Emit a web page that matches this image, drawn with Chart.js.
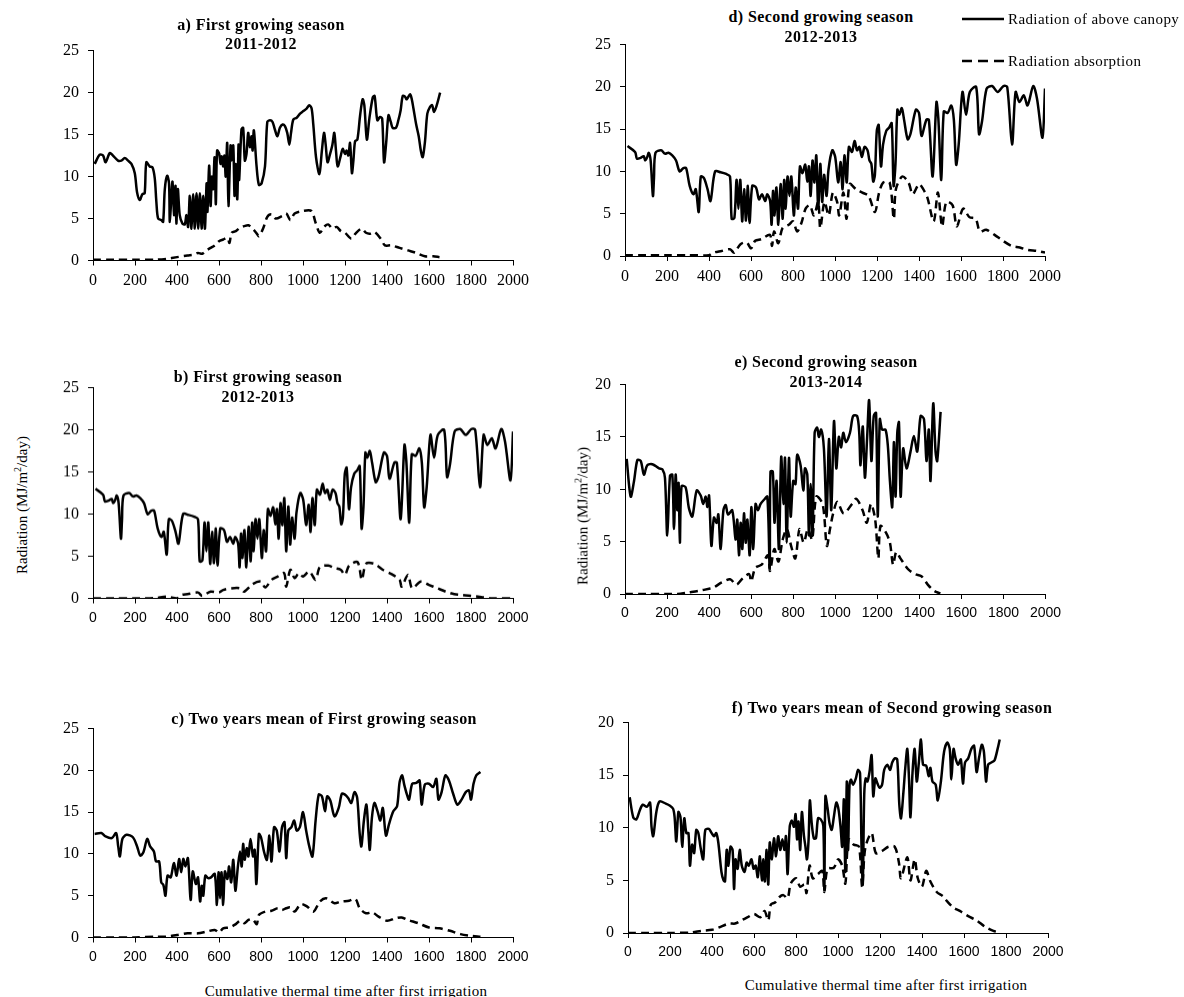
<!DOCTYPE html>
<html lang="en">
<head>
<meta charset="UTF-8">
<title>Radiation above canopy and absorbed</title>
<script src="https://cdn.jsdelivr.net/npm/chart.js"></script>
<style>
    body { margin: 0; background: #fff; width: 1184px; height: 997px; position: relative; overflow: hidden;
           font-family: "Liberation Serif", "DejaVu Serif", serif; color: #000; }
    .panel { position: absolute; }
    .ttl { position: absolute; font-weight: bold; font-size: 16px; letter-spacing: 0.4px; white-space: nowrap; transform: translate(-50%, -50%); }
    .axt { position: absolute; font-size: 15px; white-space: nowrap; transform: translate(-50%, -50%); letter-spacing: 0.3px; }
    .ylab { position: absolute; font-size: 15px; white-space: nowrap; transform: translate(-50%, -50%) rotate(-90deg); }
    .leg { position: absolute; font-size: 15px; white-space: nowrap; letter-spacing: 0.4px; transform: translateY(-50%); }
</style>
</head>
<body>

<!-- panels -->
<div class="panel" id="pa"><canvas id="ca"></canvas></div>
<div class="panel" id="pb"><canvas id="cb"></canvas></div>
<div class="panel" id="pc"><canvas id="cc"></canvas></div>
<div class="panel" id="pd"><canvas id="cd"></canvas></div>
<div class="panel" id="pe"><canvas id="ce"></canvas></div>
<div class="panel" id="pf"><canvas id="cf"></canvas></div>

<!-- titles -->
<div class="ttl" style="left:261px;top:25px">a) First growing season</div>
<div class="ttl" style="left:261px;top:44px">2011-2012</div>
<div class="ttl" style="left:258px;top:377px">b) First growing season</div>
<div class="ttl" style="left:258px;top:397px">2012-2013</div>
<div class="ttl" style="left:324px;top:719px">c) Two years mean of First growing season</div>
<div class="ttl" style="left:821px;top:17px">d) Second growing season</div>
<div class="ttl" style="left:821px;top:37px">2012-2013</div>
<div class="ttl" style="left:826px;top:362px">e) Second growing season</div>
<div class="ttl" style="left:826px;top:382px">2013-2014</div>
<div class="ttl" style="left:892px;top:708px">f) Two years mean of Second growing season</div>

<div class="ylab" style="left:21px;top:505px">Radiation (MJ/m<sup style="font-size:10px">2</sup>/day)</div>
<div class="ylab" style="left:582px;top:516px">Radiation (MJ/m<sup style="font-size:10px">2</sup>/day)</div>
<div class="axt" style="left:346px;top:991px">Cumulative thermal time after first irrigation</div>
<div class="axt" style="left:886px;top:985px">Cumulative thermal time after first irrigation</div>

<!-- legend -->
<svg style="position:absolute;left:960px;top:10px" width="48" height="60">
    <line x1="2" y1="9" x2="44" y2="9" stroke="#000" stroke-width="2.5"/>
    <line x1="2" y1="51" x2="44" y2="51" stroke="#000" stroke-width="2.5" stroke-dasharray="10,6"/>
</svg>
<div class="leg" style="left:1008px;top:19px">Radiation of above canopy</div>
<div class="leg" style="left:1008px;top:61px">Radiation absorption</div>

<script>
    // a) first season 2011-2012
    const tt1112 = [8,32,48,60,80,95,119,135,151,167,183,199,210,223,235,246,254,270,283,294,302,310,326,334,342,353,362,366,378,386,393,397,404,413,426,437,445,453,461,469,477,485,493,501,509,517,525,533,541,545,553,560,566,572,579,585,591,601,607,613,620,626,632,639,645,655,661,668,674,680,687,693,696,707,715,723,731,739,747,755,760,766,779,790,803,819,830,843,855,866,878,890,903,914,925,935,943,954,970,986,1002,1017,1030,1041,1049,1062,1078,1090,1100,1108,1117,1129,1140,1149,1157,1165,1180,1189,1200,1208,1216,1224,1233,1240,1248,1259,1272,1284,1292,1304,1316,1332,1341,1354,1367,1377,1386,1396,1407,1418,1427,1443,1454,1465,1475,1486,1494,1510,1518,1526,1539,1551,1561,1570,1581,1592,1605,1615,1624,1637,1653];
    const rad1112 = [11.5,12.6,12.5,11.7,12.8,12.5,11.9,11.9,12.2,11.9,11.5,10.4,8.1,7.2,7.9,8.0,11.7,11.2,11.1,9.8,6.9,5.0,4.8,4.6,8.5,10.1,9.2,4.6,9.4,5.4,8.9,4.4,8.5,5.4,4.4,4.3,5.4,4.0,7.7,3.8,7.9,3.8,8.0,3.8,8.0,3.8,7.7,3.8,9.2,5.8,11.3,6.5,10.0,8.5,12.3,6.7,13.1,12.7,11.5,12.4,11.2,12.5,10.0,14.0,6.5,13.7,11.9,13.7,7.7,11.5,7.3,13.8,9.6,15.6,15.8,11.9,12.7,15.2,13.5,14.8,13.1,15.5,11.2,9.0,9.2,11.2,16.5,16.7,16.5,15.6,14.8,15.8,16.2,16.0,15.2,13.8,15.2,16.8,17.0,17.5,17.8,18.1,18.5,18.1,16.2,12.3,10.3,13.1,15.2,13.8,11.7,12.7,13.8,15.2,13.1,11.2,12.5,13.3,12.7,13.1,12.5,14.0,10.4,11.9,14.2,14.4,17.3,19.2,18.5,14.4,16.9,19.4,19.6,16.7,17.1,16.9,11.7,14.0,17.3,16.5,15.8,15.8,16.7,17.9,19.6,19.5,19.2,19.8,19.2,18.1,16.2,14.8,13.1,12.3,14.2,17.5,18.3,18.5,17.7,18.5,20.0];
    const absX_a = [0,100,200,300,350,400,450,480,500,520,540,560,580,600,620,640,650,660,680,700,720,740,760,780,790,810,830,850,870,900,920,940,960,1000,1040,1060,1080,1100,1120,1140,1160,1180,1200,1230,1250,1280,1300,1320,1340,1370,1390,1420,1460,1500,1540,1580,1620,1650];
    const abs_a = [0.1,0.1,0.1,0.1,0.2,0.4,0.6,0.7,0.9,0.8,1.2,1.5,1.8,2.3,2.5,2.7,2.1,3.3,3.5,3.9,4.1,4.2,3.8,3.2,2.9,3.8,5.2,5.5,5.0,5.3,5.6,4.8,5.6,5.9,5.9,4.5,3.3,4.0,4.3,3.8,4.0,3.5,3.3,2.6,3.2,3.8,3.3,3.2,3.4,2.6,1.8,1.8,1.5,1.2,0.9,0.5,0.5,0.4];

    // b) and d) share the 2012-2013 weather
    const tt1213 = [12,48,57,74,89,96,106,113,122,133,138,145,172,190,207,225,243,260,278,291,308,326,337,351,361,376,393,407,429,455,482,500,508,521,531,540,549,558,567,576,585,593,606,624,638,652,668,677,691,698,705,712,721,730,741,751,758,765,774,783,792,804,813,824,833,845,858,868,876,884,893,902,911,920,930,939,948,960,969,987,1001,1015,1027,1036,1045,1056,1066,1081,1093,1105,1116,1128,1141,1155,1164,1173,1182,1190,1199,1208,1219,1229,1244,1258,1270,1279,1288,1297,1306,1318,1329,1346,1359,1385,1400,1412,1435,1447,1465,1483,1492,1506,1518,1536,1554,1566,1577,1589,1607,1624,1642,1672,1686,1700,1722,1748,1775,1802,1820,1843,1860,1878,1899,1917,1944,1962,1988,2000];
    const rad1213 = [13.0,12.3,11.5,11.6,11.8,11.3,11.7,12.2,11.3,7.1,9.2,12.2,12.5,12.1,12.2,11.9,11.3,10.0,10.4,10.4,8.3,7.3,7.9,5.2,9.4,9.2,7.9,6.5,10.0,9.9,9.7,9.4,4.4,4.5,9.0,5.6,9.0,4.1,7.9,4.2,8.3,3.9,8.3,8.1,6.7,7.3,6.5,7.3,6.5,3.7,7.7,4.8,8.1,3.7,8.5,4.4,9.0,5.6,9.4,7.1,9.4,4.8,8.1,5.6,10.6,9.8,10.8,8.8,10.6,7.1,11.3,8.7,11.9,5.6,10.9,6.4,9.6,7.1,10.2,12.5,11.7,8.7,11.1,7.9,11.9,8.7,12.9,12.3,13.6,12.5,12.9,11.7,12.9,12.5,11.3,10.9,8.8,9.6,14.8,15.5,10.6,13.2,14.8,15.2,15.7,8.3,10.9,17.3,16.7,17.5,16.1,13.8,14.4,17.3,16.9,14.2,16.1,16.1,9.4,18.2,16.3,9.0,17.1,16.9,17.8,16.1,10.8,13.2,19.4,16.7,19.4,20.0,14.4,15.9,19.8,20.1,19.4,20.1,20.0,13.2,19.4,18.2,19.0,17.8,20.1,18.6,14.0,19.8];
    const absX_b = [0,100,200,250,300,350,400,420,450,500,520,560,600,620,660,700,720,760,800,820,850,880,910,920,940,960,980,1000,1030,1060,1080,1120,1150,1180,1200,1220,1260,1280,1300,1340,1380,1420,1460,1470,1500,1520,1560,1600,1640,1680,1720,1760,1800,1850,1900,2000];
    const abs_b = [0,0,0,0,0.05,0.2,0,0.4,0.5,0.7,0.3,0.8,0.7,1.0,1.2,1.2,0.8,1.7,2.0,1.3,2.2,2.6,3.0,1.4,3.4,2.4,3.0,2.6,3.2,2.2,3.7,3.9,3.6,3.4,2.8,3.9,4.3,2.2,4.1,4.1,3.4,2.9,2.2,1.4,2.8,1.2,2.0,1.6,1.2,0.8,0.5,0.4,0.3,0.15,0,0];
    const absX_d = [0,100,200,300,400,420,460,500,520,550,580,600,620,650,690,700,710,730,750,780,800,820,840,860,880,900,920,930,950,970,990,1010,1020,1040,1055,1070,1100,1130,1160,1190,1210,1230,1260,1280,1290,1320,1350,1370,1400,1420,1440,1470,1490,1510,1530,1560,1580,1610,1640,1670,1690,1720,1760,1800,1840,1880,1920,1960,2000];
    const abs_d = [0.1,0.1,0.1,0.1,0.1,0.4,0.6,0.8,0.4,1.4,1.6,0.9,1.8,2.0,2.5,1.2,2.9,1.5,3.3,3.7,4.1,2.9,3.9,5.6,6.0,4.8,6.4,3.3,6.4,4.8,7.5,6.4,4.8,7.5,4.4,8.5,7.9,7.5,7.1,5.2,7.5,8.7,8.7,4.4,7.9,9.4,8.7,7.3,8.5,7.9,6.9,4.1,7.5,3.5,6.4,6.0,3.5,5.6,4.6,4.4,2.9,3.1,2.5,1.8,1.2,1.0,0.7,0.6,0.4];

    // c) two years mean, first season
    const ttMean1 = [8,40,60,90,110,120,128,140,160,190,210,225,240,258,272,290,300,315,325,335,345,355,370,385,398,410,420,430,440,452,465,475,490,500,510,518,525,535,548,562,580,590,598,605,612,620,628,640,648,658,668,678,690,700,708,715,722,732,740,750,762,770,778,790,800,815,828,840,850,862,875,888,900,912,920,930,945,958,970,985,1000,1015,1030,1045,1060,1075,1090,1105,1115,1130,1150,1170,1185,1200,1215,1230,1245,1258,1270,1278,1290,1302,1312,1318,1328,1340,1355,1368,1380,1395,1410,1430,1448,1460,1472,1482,1495,1505,1520,1540,1555,1565,1580,1600,1620,1635,1645,1660,1678,1695,1715,1735,1755,1775,1790,1800,1812,1825,1845];
    const radMean1 = [12.4,12.5,12.1,11.9,12.5,10.9,9.7,11.8,12.3,12.0,10.9,9.8,10.2,11.8,10.9,10.3,9.1,9.1,6.6,6.3,5.0,7.4,7.2,8.9,7.4,9.4,7.8,9.4,8.5,9.5,4.5,7.9,6.4,7.2,4.3,6.2,5.0,7.4,7.1,7.2,7.6,3.9,7.8,4.7,7.8,3.9,7.9,7.0,8.5,6.6,9.3,5.6,8.5,10.3,8.5,11.2,9.3,10.7,9.7,11.8,9.7,10.5,6.4,12.4,12.0,10.2,9.3,12.2,9.1,13.2,12.8,10.3,13.2,13.8,9.5,12.8,13.2,14.0,12.8,13.2,15.0,12.8,10.9,9.7,14.0,17.1,16.9,15.1,16.9,16.4,14.5,15.5,17.2,17.1,16.7,16.1,17.4,16.7,12.4,10.9,14.0,15.9,12.4,10.5,14.3,16.1,15.1,14.0,15.5,12.2,13.6,15.1,15.7,18.6,19.4,18.3,17.1,16.5,18.4,18.5,18.8,15.9,18.3,18.4,18.0,19.0,16.5,17.4,19.4,18.8,17.2,15.9,16.5,17.4,17.6,16.5,18.4,19.4,19.8];
    const absX_c = [0,100,200,300,350,400,450,500,540,580,600,620,650,680,700,720,740,760,780,790,820,850,880,900,920,940,960,990,1020,1050,1080,1110,1150,1180,1220,1250,1270,1300,1330,1360,1400,1440,1470,1500,1550,1600,1650,1700,1750,1800,1845];
    const abs_c = [0,0,0,0.1,0.1,0.3,0.5,0.5,0.7,0.9,0.6,1.1,1.2,1.6,2.0,1.7,2.1,2.2,1.6,2.7,3.1,3.2,3.5,3.3,3.5,3.6,3.1,4.0,3.7,3.1,4.3,4.7,4.1,4.3,4.4,4.6,3.5,2.9,3.0,2.5,2.0,2.3,2.4,2.1,1.7,1.2,1.1,0.8,0.4,0.2,0.1];

    // e) second season 2013-2014
    const tt1314 = [8,27,43,59,75,90,106,130,162,178,190,201,214,225,233,241,249,255,261,269,288,304,320,341,360,372,384,392,400,411,423,436,444,455,468,479,490,510,526,534,542,550,558,566,574,582,593,601,610,621,632,645,661,677,688,692,703,711,721,732,743,753,761,769,780,788,800,811,819,835,848,856,867,875,883,892,902,914,922,933,946,959,970,981,994,1005,1017,1028,1038,1051,1070,1085,1104,1114,1120,1131,1141,1152,1161,1172,1183,1194,1202,1212,1223,1239,1250,1260,1271,1279,1287,1295,1303,1311,1323,1339,1358,1374,1390,1406,1422,1434,1445,1453,1466,1477,1485,1501];
    const rad1314 = [12.9,9.3,10.8,12.8,12.7,11.4,12.3,12.4,12.0,11.9,11.1,5.6,11.3,11.4,6.2,11.4,8.0,10.6,4.9,10.3,10.2,8.2,7.4,9.9,9.4,8.6,9.3,8.3,9.4,4.6,7.3,6.8,7.6,4.3,8.0,8.5,7.6,8.0,5.2,7.1,3.7,6.8,4.3,7.7,4.9,7.1,3.7,8.3,4.3,8.6,8.0,8.6,9.0,9.3,2.5,11.7,11.7,6.8,10.8,4.3,13.1,8.6,13.0,4.9,13.0,7.4,10.8,10.5,13.3,12.3,9.9,12.0,11.4,5.6,10.5,5.6,15.4,15.9,15.0,15.7,13.9,7.4,14.8,8.0,16.5,12.0,15.0,14.0,15.4,14.5,15.4,17.0,17.0,15.4,12.3,16.0,11.1,15.1,18.5,12.7,17.0,17.3,7.4,16.7,15.7,15.7,14.2,10.8,8.3,14.5,9.3,15.4,16.4,9.3,13.9,12.0,13.6,15.1,13.6,17.0,16.7,12.7,15.7,10.8,18.2,13.6,12.7,17.4];
    const absX_e = [0,100,200,250,300,350,400,420,460,500,530,560,590,600,620,650,680,690,710,730,750,770,790,810,830,850,870,890,910,940,960,975,990,1010,1040,1080,1100,1130,1150,1170,1190,1205,1215,1240,1260,1275,1290,1310,1330,1350,1380,1410,1440,1470,1500];
    const abs_e = [0,0,0,0,0.15,0.3,0.5,0.6,1.1,1.4,0.9,1.5,1.9,1.2,2.5,2.8,3.7,2.2,4.3,3.1,5.2,6.2,4.6,3.4,6.2,4.9,6.2,5.2,9.3,8.6,4.6,6.2,7.7,8.8,7.7,8.6,9.1,8.0,6.8,8.6,7.1,3.4,6.5,5.9,4.9,2.8,4.0,3.4,2.8,2.3,1.9,1.7,0.9,0.3,0.05];

    // f) two years mean, second season
    const ttMean2 = [8,25,40,55,70,90,105,112,120,135,150,180,200,215,222,230,240,250,258,268,278,288,295,305,315,325,335,345,358,368,385,398,410,420,430,445,455,462,470,478,488,498,505,512,522,532,542,555,565,575,588,598,608,618,628,638,645,652,660,668,675,685,695,705,715,725,735,745,752,760,770,780,790,798,805,812,820,828,838,845,852,860,866,875,885,895,905,918,930,935,940,950,960,970,980,992,1002,1012,1020,1028,1035,1042,1048,1055,1062,1072,1085,1095,1105,1112,1118,1125,1132,1140,1150,1160,1168,1178,1188,1198,1210,1220,1235,1248,1258,1270,1282,1292,1300,1312,1320,1330,1338,1345,1355,1365,1375,1385,1395,1405,1420,1432,1440,1450,1465,1475,1490,1505,1520,1532,1540,1550,1560,1572,1585,1595,1605,1620,1635,1648,1660,1672,1685,1695,1705,1715,1730,1745,1760,1770];
    const radMean2 = [12.9,11.0,10.8,11.6,12.2,12.0,12.4,10.1,9.2,11.5,12.5,12.3,12.1,11.8,11.0,8.7,11.5,11.0,8.2,10.9,9.5,9.5,6.4,8.4,7.6,9.8,9.5,8.2,7.0,9.8,9.9,9.5,9.2,9.5,8.6,5.8,5.0,4.9,7.9,6.4,8.2,7.9,4.2,7.0,6.1,7.9,6.4,5.8,6.7,6.4,7.0,6.1,6.4,5.3,7.3,5.0,7.0,4.9,7.9,4.6,8.6,7.0,9.0,7.3,9.2,7.9,8.9,7.9,9.2,5.6,10.1,10.7,10.1,11.3,8.9,10.6,7.9,11.5,9.2,8.2,7.0,8.9,12.6,10.4,9.0,9.0,10.9,10.8,10.2,4.1,13.0,11.9,10.4,9.8,11.0,12.4,11.8,10.1,8.2,12.7,5.8,14.4,7.9,14.1,14.6,14.1,14.7,15.5,15.2,8.2,4.6,13.2,14.7,14.4,15.3,16.9,13.0,14.7,14.2,13.8,14.1,15.5,16.0,15.5,16.2,16.6,16.5,12.2,10.9,13.5,15.6,17.5,14.7,11.0,15.3,17.5,14.4,16.2,18.4,16.0,15.9,14.9,15.7,14.4,14.1,12.6,14.4,17.2,18.1,17.5,14.6,17.5,16.6,16.0,16.5,14.2,16.2,16.6,17.5,17.8,15.3,16.7,17.9,17.2,14.4,16.0,16.2,16.4,17.5,18.4];
    const absX_f = [0,100,200,300,350,400,430,480,510,540,570,600,630,650,668,680,700,720,740,760,775,800,820,840,850,865,880,905,925,935,950,980,1000,1020,1035,1050,1075,1100,1115,1130,1160,1180,1210,1240,1270,1290,1300,1330,1345,1365,1380,1400,1420,1440,1470,1500,1520,1550,1580,1620,1660,1700,1740,1770];
    const abs_f = [0,0,0,0.05,0.2,0.3,0.5,0.9,0.9,1.2,1.5,1.8,1.5,2.1,1.2,2.7,2.9,3.4,3.6,3.3,4.7,5.2,4.4,4.6,3.8,6.4,5.2,5.6,5.9,3.9,6.1,6.2,7.0,6.4,4.7,8.9,8.4,8.2,4.4,8.1,9.5,7.6,7.8,8.2,8.2,6.7,5.2,7.2,5.0,7.0,5.2,4.4,5.9,4.9,3.9,3.5,3.0,2.4,2.1,1.6,1.2,0.6,0.2,0.05];

    const xTicks = [0, 200, 400, 600, 800, 1000, 1200, 1400, 1600, 1800, 2000];

    const serif = '"Liberation Serif", "DejaVu Serif", serif';
    const sans = '"Liberation Sans", Arial, sans-serif';

    function pts(xs, ys) {
        return xs.map((x, i) => ({ x: x, y: ys[i] }));
    }

    // box = plot area in page pixels
    function drawPanel(id, box, tt, rad, absX, absY, yMax, xFont) {
        const padL = 50, padT = 12, padR = 25, padB = 32;
        const wrap = document.getElementById('p' + id);
        wrap.style.left = (box.L - padL) + 'px';
        wrap.style.top = (box.T - padT) + 'px';
        wrap.style.width = (box.R - box.L + padL + padR) + 'px';
        wrap.style.height = (box.B - box.T + padT + padB) + 'px';

        const axisCommon = {
            border: { display: true, color: '#000', width: 1 },
            grid: { display: true, drawOnChartArea: false, drawTicks: true, tickLength: 5, color: '#000' }
        };

        new Chart(document.getElementById('c' + id), {
            type: 'line',
            data: {
                datasets: [
                    { label: 'Radiation of above canopy', data: pts(tt, rad), borderColor: '#000', borderWidth: 2.5,
                      pointRadius: 0, tension: 0.3, fill: false },
                    { label: 'Radiation absorption', data: pts(absX, absY), borderColor: '#000', borderWidth: 2.5,
                      borderDash: [8, 5], pointRadius: 0, tension: 0.3, fill: false }
                ]
            },
            options: {
                responsive: true,
                maintainAspectRatio: false,
                animation: false,
                layout: { padding: { left: 0, top: padT, right: padR, bottom: 0 } },
                plugins: { legend: { display: false }, tooltip: { enabled: false } },
                scales: {
                    x: Object.assign({}, axisCommon, {
                        type: 'linear', min: 0, max: 2000,
                        afterBuildTicks: s => { s.ticks = xTicks.map(v => ({ value: v })); },
                        afterFit: s => { s.height = padB; },
                        ticks: { color: '#000', padding: 6, autoSkip: false, maxRotation: 0,
                                 callback: v => String(v),
                                 font: { family: xFont.family, size: xFont.size } }
                    }),
                    y: Object.assign({}, axisCommon, {
                        min: 0, max: yMax,
                        afterFit: s => { s.width = padL; },
                        ticks: { stepSize: 5, color: '#000', padding: 9, callback: v => String(v),
                                 font: { family: serif, size: 16 } }
                    })
                }
            }
        });
    }

    drawPanel('a', { L: 93, R: 513, T: 43.5, B: 260 }, tt1112, rad1112, absX_a, abs_a, 25, { family: serif, size: 16 });
    drawPanel('b', { L: 93, R: 513, T: 381, B: 597.5 }, tt1213, rad1213, absX_b, abs_b, 25, { family: sans, size: 14 });
    drawPanel('c', { L: 93, R: 513, T: 721.5, B: 937 }, ttMean1, radMean1, absX_c, abs_c, 25, { family: sans, size: 14 });
    drawPanel('d', { L: 625, R: 1045, T: 37.5, B: 255.5 }, tt1213, rad1213, absX_d, abs_d, 25, { family: serif, size: 16 });
    drawPanel('e', { L: 624.5, R: 1045, T: 377.5, B: 593.5 }, tt1314, rad1314, absX_e, abs_e, 20, { family: sans, size: 14 });
    drawPanel('f', { L: 628, R: 1048, T: 716, B: 933 }, ttMean2, radMean2, absX_f, abs_f, 20, { family: sans, size: 14 });
</script>

</body>
</html>
